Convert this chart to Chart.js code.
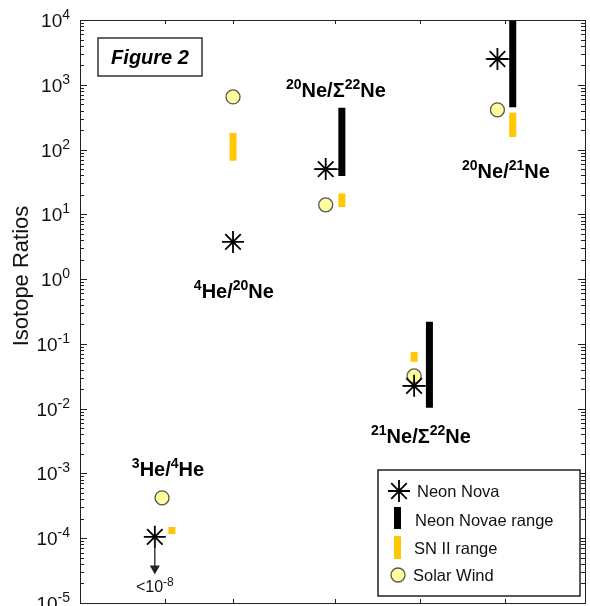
<!DOCTYPE html>
<html>
<head>
<meta charset="utf-8">
<script src="https://cdn.jsdelivr.net/npm/chart.js@4.4.1/dist/chart.umd.min.js"></script>
<style>
  html, body { margin: 0; padding: 0; background: #fff; }
</style>
</head>
<body>
<canvas id="chart" width="590" height="606"></canvas>
<script>
// ratio categories (^ marks a superscript)
const categories = ['^3He/^4He', '^4He/^20Ne', '^20Ne/Σ^22Ne', '^21Ne/Σ^22Ne', '^20Ne/^21Ne'];
const labelX = [1.035, 1.81, 3.01, 4.01, 5.01];
const labelY = [1.2e-3, 0.68, 860, 3.9e-3, 48];

// x tick positions (no labels) and y tick exponents
const xTicks = [1, 1.8, 3, 4, 5];
const yTickExps = [-5, -4, -3, -2, -1, 0, 1, 2, 3, 4];

// Neon Nova
const novaX = [0.88, 1.8, 2.89, 3.93, 4.91];
const novaY = [1.05e-4, 3.75, 50, 0.0225, 2500];

// Neon Novae range
const rangeX = [null, null, 3.08, 4.11, 5.09];
const rangeLow = [null, null, 39, 0.0103, 450];
const rangeHigh = [null, null, 440, 0.22, 1e4];

// SN II range
const snX = [1.08, 1.8, 3.08, 3.93, 5.09];
const snLow = [1.16e-4, 67, 13, 0.053, 156];
const snHigh = [1.49e-4, 180, 21, 0.075, 370];

// Solar Wind
const windX = [0.965, 1.8, 2.89, 3.93, 4.91];
const windY = [4.2e-4, 650, 14, 0.032, 410];

// upper limit arrow for 3He/4He
const limitArrowTo = 2.75e-5;
const limitText = '<10^-8';
const limitTextY = 1.8e-5;

const legendItems = ['Neon Nova', 'Neon Novae range', 'SN II range', 'Solar Wind'];

const SN_COLOR = '#ffc800';
const WIND_FILL = '#ffff9e';
const FONT = '"Liberation Sans", Arial, Helvetica, sans-serif';

function segments(xs, lows, highs) {
  const out = [];
  xs.forEach((x, i) => {
    if (x === null) return;
    out.push({x: x, y: lows[i]}, {x: x, y: highs[i]}, {x: x, y: null});
  });
  return out;
}

// short horizontal connector from nova star to its range bar
const connectors = [];
novaX.forEach((x, i) => {
  if (rangeX[i] === null) return;
  connectors.push({x: x - 0.14, y: novaY[i]}, {x: rangeX[i], y: novaY[i]}, {x: x, y: null});
});

function drawRich(ctx, str, x, y, size, supSize, weight, align) {
  const parts = [];
  str.replace(/\^([-\d]+)|([^^]+)/g, (m, sup, txt) => {
    if (sup) parts.push({t: sup, sup: true}); else parts.push({t: txt, sup: false});
  });
  let total = 0;
  parts.forEach(p => {
    ctx.font = weight + ' ' + (p.sup ? supSize : size) + 'px ' + FONT;
    p.w = ctx.measureText(p.t).width;
    total += p.w;
  });
  let cx = align === 'right' ? x - total : (align === 'left' ? x : x - total / 2);
  ctx.textAlign = 'left';
  ctx.textBaseline = 'alphabetic';
  parts.forEach(p => {
    ctx.font = weight + ' ' + (p.sup ? supSize : size) + 'px ' + FONT;
    ctx.fillText(p.t, cx, p.sup ? y - size * 0.42 : y);
    cx += p.w;
  });
}

function drawStar(ctx, x, y, r) {
  ctx.beginPath();
  for (let a = 0; a < 4; a++) {
    const ang = a * Math.PI / 4;
    ctx.moveTo(x - r * Math.cos(ang), y - r * Math.sin(ang));
    ctx.lineTo(x + r * Math.cos(ang), y + r * Math.sin(ang));
  }
  ctx.stroke();
}

const decorations = {
  id: 'decorations',
  afterDraw(chart) {
    const ctx = chart.ctx;
    const a = chart.chartArea;
    const xs = chart.scales.x, ys = chart.scales.y;
    ctx.save();

    // axes box
    ctx.strokeStyle = '#222';
    ctx.lineWidth = 1;
    ctx.strokeRect(a.left + 0.5, a.top + 0.5, a.right - a.left, a.bottom - a.top);

    // y ticks, both sides, inward
    ctx.beginPath();
    yTickExps.forEach(e => {
      for (let k = 1; k <= 9; k++) {
        if (e === 4 && k > 1) break;
        const py = Math.round(ys.getPixelForValue(k * Math.pow(10, e))) + 0.5;
        const len = k === 1 ? 7 : 4;
        ctx.moveTo(a.left, py); ctx.lineTo(a.left + len, py);
        ctx.moveTo(a.right, py); ctx.lineTo(a.right - len, py);
      }
    });
    // x ticks top & bottom
    xTicks.forEach(v => {
      const px = Math.round(xs.getPixelForValue(v)) + 0.5;
      ctx.moveTo(px, a.top); ctx.lineTo(px, a.top + 4);
      ctx.moveTo(px, a.bottom); ctx.lineTo(px, a.bottom - 4);
    });
    ctx.stroke();

    // y tick labels
    ctx.fillStyle = '#111';
    yTickExps.forEach(e => {
      const py = ys.getPixelForValue(Math.pow(10, e));
      drawRich(ctx, '10^' + e, 70, py + 7, 19, 14, 'normal', 'right');
    });

    // y title
    ctx.save();
    ctx.translate(28, 276);
    ctx.rotate(-Math.PI / 2);
    ctx.font = '22px ' + FONT;
    ctx.textAlign = 'center';
    ctx.textBaseline = 'alphabetic';
    ctx.fillText('Isotope Ratios', 0, 0);
    ctx.restore();

    // Figure 2 box
    ctx.strokeStyle = '#333';
    ctx.lineWidth = 1.5;
    ctx.strokeRect(98, 38, 104, 38);
    ctx.fillStyle = '#000';
    ctx.font = 'italic bold 20px ' + FONT;
    ctx.textAlign = 'center';
    ctx.textBaseline = 'middle';
    ctx.fillText('Figure 2', 150, 58);

    // category labels
    categories.forEach((c, i) => {
      const px = xs.getPixelForValue(labelX[i]);
      const py = ys.getPixelForValue(labelY[i]);
      drawRich(ctx, c, px, py + 8, 20, 14, 'bold', 'center');
    });

    // upper limit arrow
    const ax = xs.getPixelForValue(novaX[0]);
    const ay0 = ys.getPixelForValue(novaY[0]);
    const ay1 = ys.getPixelForValue(limitArrowTo);
    ctx.strokeStyle = '#222';
    ctx.fillStyle = '#222';
    ctx.lineWidth = 1.3;
    ctx.beginPath();
    ctx.moveTo(ax, ay0); ctx.lineTo(ax, ay1 - 6);
    ctx.stroke();
    ctx.beginPath();
    ctx.moveTo(ax - 5, ay1 - 9); ctx.lineTo(ax + 5, ay1 - 9); ctx.lineTo(ax, ay1);
    ctx.closePath();
    ctx.fill();
    ctx.fillStyle = '#111';
    drawRich(ctx, limitText, ax, ys.getPixelForValue(limitTextY) + 6, 16, 12, 'normal', 'center');

    // legend
    ctx.fillStyle = '#fff';
    ctx.fillRect(378, 470, 202, 126);
    ctx.strokeStyle = '#222';
    ctx.lineWidth = 1.5;
    ctx.strokeRect(378, 470, 202, 126);
    const rows = [491, 520, 548, 575];
    ctx.strokeStyle = '#000';
    ctx.lineWidth = 1.8;
    drawStar(ctx, 399, rows[0], 11);
    ctx.fillStyle = '#000';
    ctx.fillRect(394, 507, 7, 22);
    ctx.fillStyle = SN_COLOR;
    ctx.fillRect(394, 536, 7, 23);
    ctx.beginPath();
    ctx.arc(398, rows[3], 7, 0, Math.PI * 2);
    ctx.fillStyle = WIND_FILL;
    ctx.fill();
    ctx.strokeStyle = '#555';
    ctx.lineWidth = 1.3;
    ctx.stroke();
    ctx.fillStyle = '#111';
    ctx.font = '16.5px ' + FONT;
    ctx.textAlign = 'left';
    ctx.textBaseline = 'middle';
    const textX = [417, 415, 414, 413];
    legendItems.forEach((t, i) => ctx.fillText(t, textX[i], rows[i] + 1));

    ctx.restore();
  }
};

new Chart(document.getElementById('chart'), {
  type: 'scatter',
  data: {
    datasets: [
      {
        label: 'Neon Nova',
        data: novaX.map((x, i) => ({x: x, y: novaY[i]})),
        pointStyle: 'star',
        pointRadius: 11,
        borderColor: '#000',
        borderWidth: 1.8,
        order: 0
      },
      {
        type: 'line',
        label: 'connector',
        data: connectors,
        borderColor: '#000',
        borderWidth: 1.2,
        pointRadius: 0,
        spanGaps: false,
        order: 1
      },
      {
        label: 'Solar Wind',
        data: windX.map((x, i) => ({x: x, y: windY[i]})),
        pointStyle: 'circle',
        pointRadius: 7,
        backgroundColor: WIND_FILL,
        borderColor: '#555',
        borderWidth: 1.3,
        order: 2
      },
      {
        type: 'line',
        label: 'Neon Novae range',
        data: segments(rangeX, rangeLow, rangeHigh),
        borderColor: '#000',
        borderWidth: 7,
        borderCapStyle: 'butt',
        pointRadius: 0,
        spanGaps: false,
        order: 3
      },
      {
        type: 'line',
        label: 'SN II range',
        data: segments(snX, snLow, snHigh),
        borderColor: SN_COLOR,
        borderWidth: 7,
        borderCapStyle: 'butt',
        pointRadius: 0,
        spanGaps: false,
        order: 4
      }
    ]
  },
  options: {
    responsive: false,
    animation: false,
    devicePixelRatio: 1,
    layout: { autoPadding: false, padding: { left: 80, right: 5, top: 20, bottom: 3 } },
    scales: {
      x: { type: 'linear', min: 0, max: 5.94, display: false },
      y: { type: 'logarithmic', min: 1e-5, max: 1e4, display: false }
    },
    plugins: {
      legend: { display: false },
      tooltip: { enabled: false }
    }
  },
  plugins: [decorations]
});
</script>
</body>
</html>
